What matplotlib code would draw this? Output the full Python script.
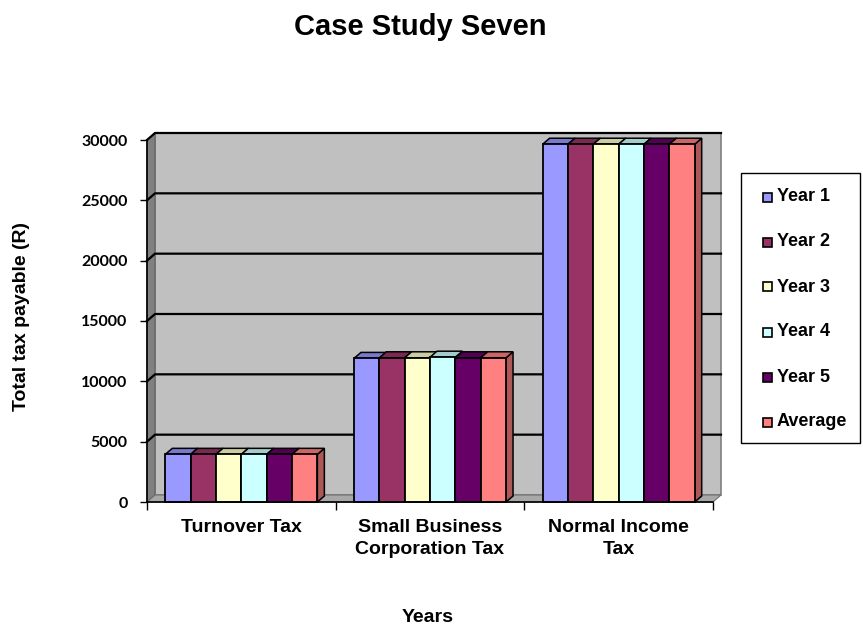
import numpy as np
import matplotlib
matplotlib.use("Agg")
import matplotlib.pyplot as plt
from matplotlib.patches import Polygon, Rectangle

# data
categories = ["Turnover Tax", "Small Business\nCorporation Tax", "Normal Income\nTax"]
series = ["Year 1", "Year 2", "Year 3", "Year 4", "Year 5", "Average"]
year1 = [3950, 11900, 29650]
year2 = [3950, 11950, 29650]
year3 = [3950, 11950, 29650]
year4 = [3950, 12000, 29650]
year5 = [3950, 11950, 29650]
average = [3950, 11950, 29650]
values = [year1, year2, year3, year4, year5, average]
colors = ["#9999FF", "#993366", "#FFFFCC", "#CCFFFF", "#660066", "#FF8080"]
yticks = [0, 5000, 10000, 15000, 20000, 25000, 30000]

W, H, DPI = 863, 625, 100
fig = plt.figure(figsize=(W / DPI, H / DPI), dpi=DPI)
# plot area in pixels: x 147..713, y 140..502
ax = fig.add_axes([147 / W, 1 - 502 / H, (713 - 147) / W, (502 - 140) / H])
xmin, xmax, ymax = -0.5, 2.5, 30000
ax.set_xlim(xmin, xmax)
ax.set_ylim(0, ymax)

# pixel -> data helpers for the fake depth
px_x = (xmax - xmin) / (713 - 147)
px_y = ymax / (502 - 140)
wdx, wdy = 8 * px_x, 7 * px_y     # wall depth
bdx, bdy = 7 * px_x, 6 * px_y     # bar depth


def darker(c, f):
    r, g, b = matplotlib.colors.to_rgb(c)
    return (r * f, g * f, b * f)


# back wall, side wall and floor
ax.add_patch(Polygon([(xmin + wdx, wdy), (xmax + wdx, wdy), (xmax + wdx, ymax + wdy),
                      (xmin + wdx, ymax + wdy)], closed=True, fc="#C0C0C0",
                     ec="#808080", lw=1.2, clip_on=False, zorder=0.5))
ax.add_patch(Polygon([(xmin, 0), (xmin + wdx, wdy), (xmin + wdx, ymax + wdy), (xmin, ymax)],
                     closed=True, fc="#808080", ec="#606060", lw=0.8, clip_on=False, zorder=0.6))
ax.add_patch(Polygon([(xmin, 0), (xmax, 0), (xmax + wdx, wdy), (xmin + wdx, wdy)],
                     closed=True, fc="#A8A8A8", ec="#707070", lw=0.8, clip_on=False, zorder=0.6))
for yv in yticks[1:]:
    ax.plot([xmin, xmin + wdx, xmax + wdx], [yv, yv + wdy, yv + wdy], color="black",
            lw=1.6, clip_on=False, zorder=0.8)

# 3-D looking columns
group = 0.806
w = group / len(series)
for i in range(len(categories)):
    for j, (vals, c) in enumerate(zip(values, colors)):
        x0 = i - group / 2 + j * w
        h = vals[i]
        z = 2 + j * 0.01
        ax.add_patch(Polygon([(x0 + w, 0), (x0 + w + bdx, bdy), (x0 + w + bdx, h + bdy), (x0 + w, h)],
                             closed=True, fc=darker(c, 0.68), ec="black", lw=1.1, zorder=z,
                             clip_on=False))
        ax.add_patch(Polygon([(x0, h), (x0 + w, h), (x0 + w + bdx, h + bdy), (x0 + bdx, h + bdy)],
                             closed=True, fc=darker(c, 0.8), ec="black", lw=1.1, zorder=z,
                             clip_on=False))
        ax.bar(x0, h, width=w, align="edge", color=c, edgecolor="black", lw=1.3,
               zorder=z + 0.005, clip_on=False)

# axes styling
for s in ["top", "right"]:
    ax.spines[s].set_visible(False)
ax.spines["left"].set_linewidth(1.2)
ax.spines["bottom"].set_linewidth(1.2)
ax.spines["left"].set_zorder(3)
ax.spines["bottom"].set_zorder(3)
ax.set_yticks(yticks)
ax.set_yticklabels([str(t) for t in yticks], fontfamily="Lato", fontweight="bold", fontsize=11.5)
ax.tick_params(axis="y", length=5, width=1, pad=9)
ax.set_xticks(range(len(categories)))
ax.set_xticklabels(categories, fontfamily="Liberation Sans", fontweight="bold", fontsize=14,
                   linespacing=1.4, va="top")
ax.tick_params(axis="x", which="major", length=0, pad=12)
ax.set_xticks([-0.5, 0.5, 1.5, 2.5], minor=True)
ax.tick_params(axis="x", which="minor", length=6, width=1)

fig.text(420 / W, 1 - 27 / H, "Case Study Seven", ha="center", va="center",
         fontfamily="Liberation Sans", fontweight="bold", fontsize=21)
fig.text(22 / W, 1 - 316 / H, "Total tax payable (R)", rotation=90, ha="center", va="center",
         fontfamily="Liberation Sans", fontweight="bold", fontsize=14)
fig.text(428 / W, 1 - 617 / H, "Years", ha="center", va="center",
         fontfamily="Liberation Sans", fontweight="bold", fontsize=14)

# legend box drawn by hand to match spacing
fig.add_artist(Rectangle((741 / W, 1 - 443 / H), 119 / W, 270 / H, transform=fig.transFigure,
                         fc="white", ec="black", lw=1))
for k, (name, c) in enumerate(zip(series, colors)):
    yc = 197 + 45 * k
    fig.add_artist(Rectangle((763 / W, 1 - (yc + 4.5) / H), 9 / W, 9 / H,
                             transform=fig.transFigure, fc=c, ec="black", lw=1.2))
    fig.text(777 / W, 1 - yc / H, name, ha="left", va="center",
             fontfamily="Liberation Sans", fontweight="bold", fontsize=13)

fig.savefig("out.png", dpi=DPI)
